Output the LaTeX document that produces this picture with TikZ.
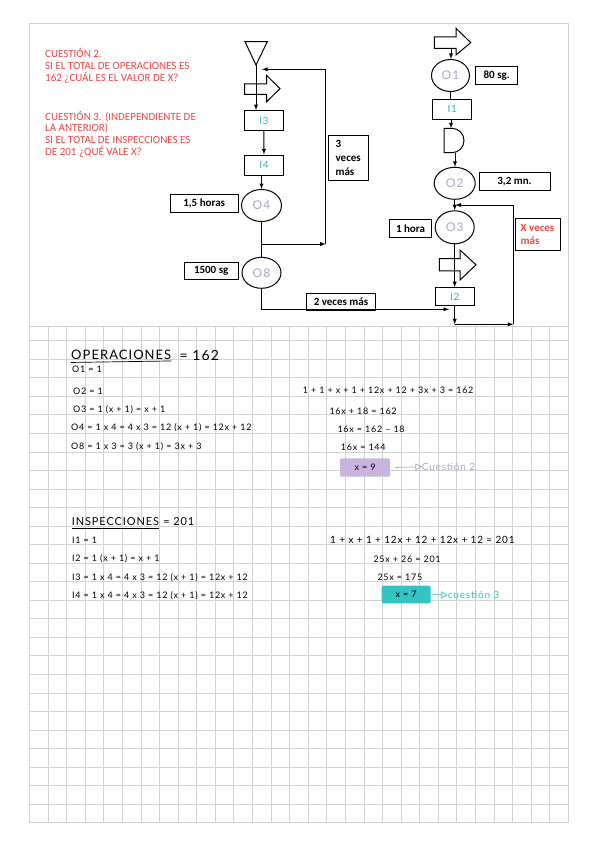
\documentclass[tikz,border=0pt]{standalone}
\usepackage{fontspec}
\setmainfont{Carlito}
\newfontfamily\mano[LetterSpace=8]{Lato}
\usetikzlibrary{arrows}
\usetikzlibrary{positioning}
\usetikzlibrary{shapes.geometric}
\definecolor{rojo}{HTML}{F04545}
\definecolor{cian}{HTML}{2DB5C8}
\definecolor{lila}{HTML}{B4A0D6}
\definecolor{lilafondo}{HTML}{C8B4DE}
\definecolor{turquesa}{HTML}{34C3C3}
\definecolor{rejilla}{HTML}{D2D2D2}
\definecolor{marco}{HTML}{CFCFCF}

\begin{document}
\begin{tikzpicture}[x=1pt,y=-1pt,>=latex,
  linea/.style={line width=0.9pt},
  flecha/.style={line width=0.9pt,->},
  caja/.style={draw,line width=1pt,inner sep=0pt,align=left,font=\fontsize{11}{14}\selectfont\bfseries},
  insp/.style={draw,line width=1pt,minimum width=39pt,minimum height=20pt,inner sep=0pt,font=\mano\fontsize{10}{10}\selectfont,text=cian},
  oper/.style={draw,ellipse,line width=1pt,minimum width=39pt,minimum height=32pt,inner sep=0pt,font=\mano\fontsize{12}{12}\selectfont,text=lila},
  bloque/.style={draw,line width=1pt,line join=miter},
  pregunta/.style={anchor=north west,align=left,text=rojo,inner sep=0pt,font=\fontsize{11}{11.7}\selectfont},
  nota/.style={anchor=west,inner sep=0pt,font=\mano\fontsize{9}{9}\selectfont},
]
\useasboundingbox[fill=white] (0,0) rectangle (599,848);

\foreach \i in {0,...,29}
  \draw[rejilla,line width=0.8pt] ({29.5+18.58*\i},322) -- ({29.5+18.58*\i},822.7);
\foreach \j in {0,...,26}
  \draw[rejilla,line width=0.8pt] (29.5,{340.7+18.54*\j}) -- (568.3,{340.7+18.54*\j});

\draw[marco,fill=white,line width=0.8pt] (29.3,23.3) rectangle (568.3,326.7);

\node[pregunta] (q2) at (45,48.3) {CUESTIÓN 2.\\SI EL TOTAL DE OPERACIONES ES\\162 ¿CUÁL ES EL VALOR DE X?};
\node[pregunta] (q3) at (45,110.7) {CUESTIÓN 3. (INDEPENDIENTE DE\\LA ANTERIOR)\\SI EL TOTAL DE INSPECCIONES ES\\DE 201 ¿QUÉ VALE X?};

% izquierda
\draw[bloque] (245,41.7) -- (267.3,41.7) -- (256,65) -- cycle;
\coordinate (alm) at (256,65);
\draw[bloque] (244.5,83.8) -- (266.7,83.8) -- (266.7,75.5) -- (280,88.6) -- (266.7,101.7) -- (266.7,94.3) -- (244.5,94.3) -- cycle;
\node[insp] (i3) at (263.8,120.7) {I3};
\node[insp] (i4) at (264,165) {I4};
\node[oper,minimum width=40pt] (o4) at (261.5,205.5) {O4};
\node[oper,minimum height=31pt] (o8) at (261.5,272.8) {O8};
\node[caja,minimum width=68pt,minimum height=17.7pt] (t4) at (204.2,203.8) {1,5 horas};
\node[caja,minimum width=54pt,minimum height=17.3pt] (t8) at (211.2,271.3) {1500 sg};
\node[caja,minimum width=40pt,minimum height=45pt] (v3) at (348.2,157.5) {3\\veces\\más};
\node[caja,minimum width=69pt,minimum height=17pt] (v2) at (341,301.5) {2 veces más};

\draw[flecha] (alm) -- (alm |- i3.north);
\draw[flecha] (i3) -- (i4);
\draw[flecha] (i4.south -| o4) -- (o4.north);
\draw[linea] (o4) -- (o8);
\coordinate (r1) at (261.5,244);
\coordinate (r1e) at (325.7,244);
\coordinate (r1s) at (262,69.3);
\draw[flecha] (r1) -- (r1e);
\draw[flecha] (r1e) -- (r1e |- r1s) -- (r1s);
\coordinate (d2) at (449,309.3);
\draw[flecha] (o8.south) |- (d2);

% derecha
\draw[bloque] (434.3,36.8) -- (456,36.8) -- (456,28.3) -- (470.7,42.6) -- (456,55) -- (456,48.3) -- (434.3,48.3) -- cycle;
\coordinate (b1) at (451,48.3);
\node[oper,minimum width=38pt] (o1) at (450.5,75.5) {O1};
\node[caja,minimum width=42pt,minimum height=17.6pt] (t1) at (496.7,75.5) {80 sg.};
\node[insp] (i1) at (452.2,109.3) {I1};
\draw[bloque] (444,128.3) -- (452,128.3) arc[start angle=-90,end angle=90,x radius=12,y radius=12.2] -- (444,152.7) -- cycle;
\coordinate (dn) at (451,128.3);
\coordinate (ds) at (455,152.7);
\node[oper,minimum width=41pt] (o2) at (454.7,183.3) {O2};
\node[caja,minimum width=71pt,minimum height=18pt] (t2) at (514.5,181.7) {3,2 mn.};
\node[oper,minimum height=33pt] (o3) at (454.7,227.3) {O3};
\node[caja,minimum width=42.4pt,minimum height=18pt] (t3) at (410.5,228.3) {1 hora};
\node[caja,minimum width=45pt,minimum height=31.7pt,text=rojo,font=\fontsize{11}{13.3}\selectfont\bfseries] (vx) at (537.5,234.8) {X veces\\más};
\draw[bloque] (439.3,258.5) -- (460,258.5) -- (460,250) -- (476,264.8) -- (460,280) -- (460,270.8) -- (439.3,270.8) -- cycle;
\node[insp,minimum height=18.3pt] (i2) at (454.7,296.8) {I2};

\draw[flecha] (b1) -- (b1 |- o1.north);
\draw[linea] (o1.south) -- (o1.south |- i1.north);
\draw[flecha] (i1.south -| dn) -- (dn);
\draw[flecha] (ds) -- (ds |- o2.north);
\draw[flecha] (o2) -- (o3);
\draw[flecha] (o3.south) -- (o3.south |- i2.north);
\coordinate (r2) at (454.7,324.3);
\coordinate (r2e) at (513.3,324.3);
\coordinate (r2s) at (455.5,205);
\draw[flecha] (i2) -- (r2);
\draw[flecha] (r2) -- (r2e);
\draw[flecha] (r2e) -- (r2e |- r2s) -- (r2s);

% operaciones
\node[nota,font=\mano\fontsize{13}{13}\selectfont] (op) at (71,355) {OPERACIONES};
\node[nota,font=\mano\fontsize{14}{14}\selectfont,right=8pt of op] (opt) {= 162};
\draw[line width=0.7pt] ([yshift=-2.5pt]op.south west) -- ([yshift=-1pt]op.south east);
\node[nota] (e1) at (72,369.3) {O1 = 1};
\node[nota] (e2) at (73,391) {O2 = 1};
\node[nota] (e3) at (73,410) {O3 = 1 (x + 1) = x + 1};
\node[nota] (e4) at (71,427.7) {O4 = 1 x 4 = 4 x 3 = 12 (x + 1) = 12x + 12};
\node[nota] (e5) at (71,446.7) {O8 = 1 x 3 = 3 (x + 1) = 3x + 3};

\node[nota] (s1) at (302.7,390) {1 + 1 + x + 1 + 12x + 12 + 3x + 3 = 162};
\node[nota] (s2) at (329.3,411) {16x + 18 = 162};
\node[nota] (s3) at (337.3,429.3) {16x = 162 – 18};
\node[nota] (s4) at (340.7,447.3) {16x = 144};
\node[fill=lilafondo,rounded corners=2pt,minimum width=50pt,minimum height=18.4pt,inner sep=0pt,font=\mano\fontsize{9}{9}\selectfont] (x9) at (365,467.5) {x = 9};
\node[nota,text=lila,font=\mano\fontsize{10}{10}\selectfont] (c2) at (421.7,466.7) {Cuestión 2};
\draw[lila,line width=0.7pt,-open triangle 60] ([xshift=5pt]x9.east) -- (c2.west);

% inspecciones
\node[nota,font=\mano\fontsize{11}{11}\selectfont] (ins) at (71.7,521.7) {INSPECCIONES};
\node[nota,font=\mano\fontsize{11}{11}\selectfont,right=4pt of ins] (inst) {= 201};
\draw[line width=0.7pt] ([yshift=-2.5pt]ins.south west) -- ([yshift=-2.5pt]ins.south east);
\node[nota] (f1) at (72,540.7) {I1 = 1};
\node[nota] (f2) at (72,558.3) {I2 = 1 (x + 1) = x + 1};
\node[nota] (f3) at (72,577.3) {I3 = 1 x 4 = 4 x 3 = 12 (x + 1) = 12x + 12};
\node[nota] (f4) at (72,596) {I4 = 1 x 4 = 4 x 3 = 12 (x + 1) = 12x + 12};

\node[nota,font=\mano\fontsize{10}{10}\selectfont] (g1) at (330,540) {1 + x + 1 + 12x + 12 + 12x + 12 = 201};
\node[nota] (g2) at (373.3,559) {25x + 26 = 201};
\node[nota] (g3) at (377.3,577.3) {25x = 175};
\node[fill=turquesa,rounded corners=2pt,minimum width=49pt,minimum height=17.6pt,inner sep=0pt,font=\mano\fontsize{9}{9}\selectfont] (x7) at (406.2,594.5) {x = 7};
\node[nota,text=turquesa,font=\mano\fontsize{10}{10}\selectfont] (c3) at (447.7,595) {cuestión 3};
\draw[turquesa,line width=0.7pt,-open triangle 60] ([xshift=2pt]x7.east) -- (c3.west);
\end{tikzpicture}
\end{document}
